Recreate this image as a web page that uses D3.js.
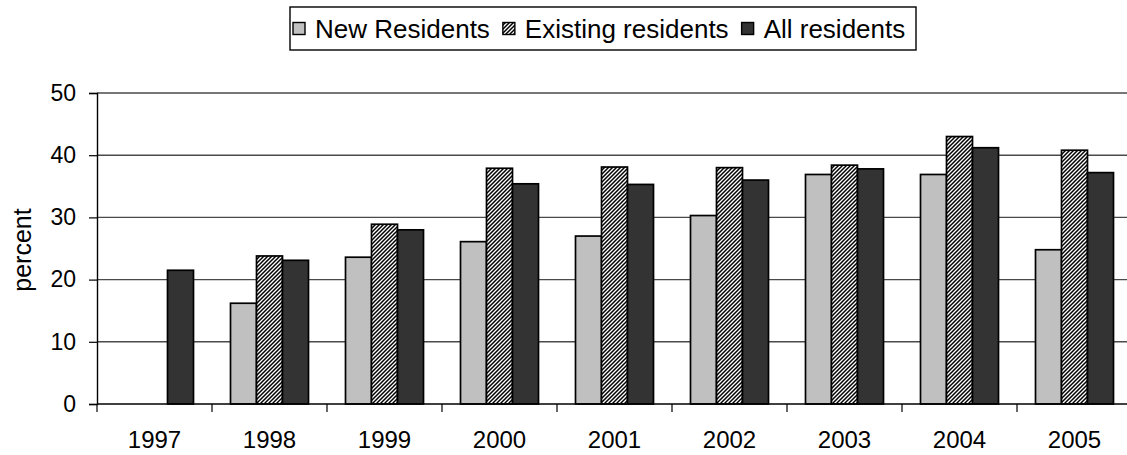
<!DOCTYPE html>
<html>
<head>
<meta charset="utf-8">
<script src="https://cdn.jsdelivr.net/npm/d3@7"></script>
<style>
  html, body { margin: 0; padding: 0; background: #fff; }
  svg { display: block; font-family: "Liberation Sans", Arial, sans-serif; }
</style>
</head>
<body>
<svg id="chart" width="1127" height="455"></svg>
<script>
// Share of residents (percent) by year
const years = ["1997", "1998", "1999", "2000", "2001", "2002", "2003", "2004", "2005"];
const seriesNames = ["New Residents", "Existing residents", "All residents"];
const newResidents      = [null, 16.2, 23.6, 26.1, 27.0, 30.3, 36.9, 36.9, 24.8];
const existingResidents = [null, 23.8, 28.9, 37.9, 38.1, 38.0, 38.4, 43.0, 40.8];
const allResidents      = [21.5, 23.1, 28.0, 35.4, 35.3, 36.0, 37.8, 41.2, 37.2];
const yTicks = [0, 10, 20, 30, 40, 50];

const seriesValues = [newResidents, existingResidents, allResidents];

const svg = d3.select("#chart");
const plot = { left: 97, top: 93, bottom: 404, catWidth: 115 };
plot.right = plot.left + plot.catWidth * years.length;

// upward diagonal hatch for existing residents (4px tile)
const defs = svg.append("defs");
const hatch = defs.append("pattern")
  .attr("id", "hatch")
  .attr("patternUnits", "userSpaceOnUse")
  .attr("width", 4).attr("height", 4);
hatch.append("rect").attr("width", 4).attr("height", 4).attr("fill", "#fff");
hatch.append("path")
  .attr("d", "M-1,1 L1,-1 M0,4 L4,0 M3,5 L5,3")
  .attr("stroke", "#000").attr("stroke-width", 1.5);

const fills = ["#c0c0c0", "url(#hatch)", "#333333"];

const x0 = d3.scaleBand().domain(years).range([plot.left, plot.right]).padding(0);
const groupWidth = 78;
const x1 = d3.scaleBand().domain(seriesNames).range([0, groupWidth]).padding(0);
const y = d3.scaleLinear().domain([0, 50]).range([plot.bottom, plot.top]);

// gridlines
svg.append("g")
  .selectAll("line")
  .data(yTicks.filter(t => t > 0))
  .join("line")
  .attr("x1", plot.left).attr("x2", plot.right)
  .attr("y1", d => y(d)).attr("y2", d => y(d))
  .attr("stroke", "#4a4a4a").attr("stroke-width", 1.4);

// bars
const rows = [];
years.forEach((yr, i) => {
  seriesNames.forEach((s, j) => {
    const v = seriesValues[j][i];
    if (v != null) rows.push({ year: yr, series: s, value: v, fill: fills[j] });
  });
});
const offset = (x0.bandwidth() - groupWidth) / 2;
svg.append("g")
  .selectAll("rect")
  .data(rows)
  .join("rect")
  .attr("x", d => x0(d.year) + offset + x1(d.series))
  .attr("y", d => y(d.value))
  .attr("width", x1.bandwidth())
  .attr("height", d => y(0) - y(d.value))
  .attr("fill", d => d.fill)
  .attr("stroke", "#000")
  .attr("stroke-width", 1.7);

// y axis
const yAxis = d3.axisLeft(y).tickValues(yTicks).tickSize(8).tickPadding(13).tickFormat(d3.format("d"));
const gy = svg.append("g").attr("transform", `translate(${plot.left},0)`).call(yAxis);
gy.select(".domain").attr("stroke", "#000").attr("stroke-width", 1.4);
gy.selectAll(".tick line").attr("stroke", "#000").attr("stroke-width", 1.2);
gy.selectAll(".tick text").attr("font-size", 23).attr("fill", "#000")
  .attr("font-family", "'Liberation Sans', Arial, sans-serif");

// x axis: baseline with ticks between categories
const gx = svg.append("g");
gx.append("line")
  .attr("x1", plot.left).attr("x2", plot.right)
  .attr("y1", y(0)).attr("y2", y(0))
  .attr("stroke", "#000").attr("stroke-width", 1.4);
gx.selectAll("line.sep")
  .data(years)
  .join("line")
  .attr("class", "sep")
  .attr("x1", d => x0(d)).attr("x2", d => x0(d))
  .attr("y1", y(0)).attr("y2", y(0) + 8)
  .attr("stroke", "#000").attr("stroke-width", 1.2);
gx.selectAll("text")
  .data(years)
  .join("text")
  .attr("x", d => x0(d) + x0.bandwidth() / 2)
  .attr("y", 448)
  .attr("text-anchor", "middle")
  .attr("font-size", 24)
  .text(d => d);

// y axis title
svg.append("text")
  .attr("transform", "translate(31,250) rotate(-90)")
  .attr("text-anchor", "middle")
  .attr("font-size", 25)
  .text("percent");

// legend
const lg = svg.append("g");
const legendFont = 26;
const sw = 12, gapAfterSwatch = 10, gapBetween = 13;
const boxL = 290, boxR = 916, boxT = 7, boxB = 50;
const midY = 28.5;
lg.append("rect")
  .attr("x", boxL).attr("y", boxT)
  .attr("width", boxR - boxL).attr("height", boxB - boxT)
  .attr("fill", "#fff").attr("stroke", "#000").attr("stroke-width", 1.4);
let cx = boxL + 3;
seriesNames.forEach((s, j) => {
  lg.append("rect")
    .attr("x", cx).attr("y", midY - sw / 2)
    .attr("width", sw).attr("height", sw)
    .attr("fill", fills[j]).attr("stroke", "#000").attr("stroke-width", 1.4);
  const t = lg.append("text")
    .attr("x", cx + sw + gapAfterSwatch)
    .attr("y", midY + legendFont * 0.358)
    .attr("font-size", legendFont)
    .text(s);
  cx += sw + gapAfterSwatch + t.node().getComputedTextLength() + gapBetween;
});
</script>
</body>
</html>
